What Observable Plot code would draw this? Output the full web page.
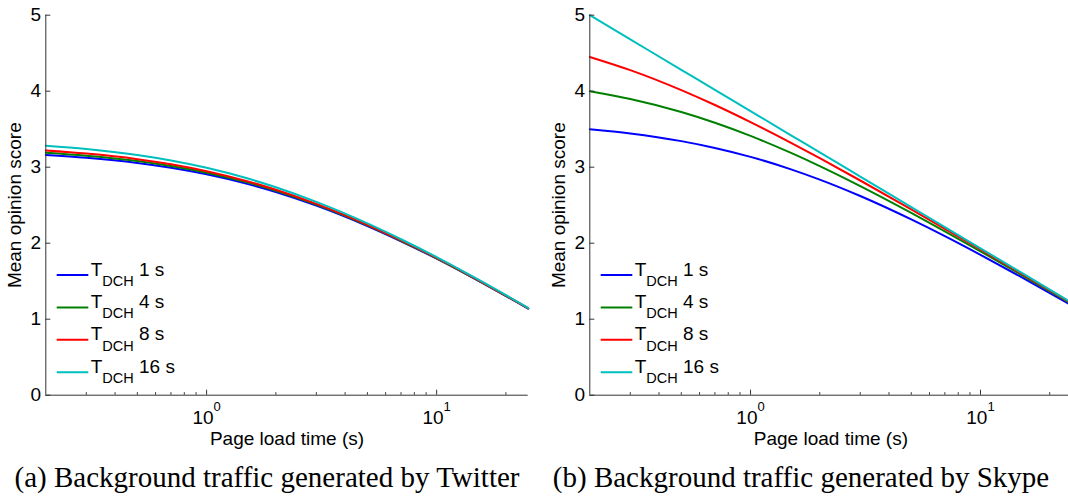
<!DOCTYPE html>
<html><head><meta charset="utf-8">
<script src="https://cdn.jsdelivr.net/npm/d3@7"></script>
<script src="https://cdn.jsdelivr.net/npm/@observablehq/plot@0.6"></script>
<style>
html,body{margin:0;padding:0;background:#fff;overflow:hidden;width:1068px;height:496px;}
#wrap{position:relative;width:1068px;height:496px;}
.panel{position:absolute;top:0;height:496px;overflow:hidden;}
.panel svg{max-width:none !important;}
.cap{position:absolute;top:463px;left:0;width:534px;text-align:center;font-family:"Liberation Serif","Times New Roman",serif;font-size:29px;line-height:29px;white-space:nowrap;color:#000;}
</style></head><body>
<div id="wrap">
  <div class="panel" id="pa" style="left:0;width:534px"></div>
  <div class="panel" id="pb" style="left:534px;width:534px"></div>
</div>
<script>
// ---- data ----
const loadTime = [0.2, 0.3, 0.5, 0.7, 1, 1.5, 2, 3, 5, 7, 10, 15, 25];
const seriesNames = ["TDCH 1 s", "TDCH 4 s", "TDCH 8 s", "TDCH 16 s"];
const legendSuffix = ["1 s", "4 s", "8 s", "16 s"];
const seriesColors = ["#0000ff", "#008000", "#ff0000", "#00bfbf"];

// (a) Twitter background traffic
const twitterT1  = [3.160, 3.123, 3.055, 2.992, 2.906, 2.781, 2.673, 2.494, 2.225, 2.025, 1.797, 1.515, 1.140];
const twitterT4  = [3.191, 3.152, 3.082, 3.016, 2.928, 2.800, 2.689, 2.507, 2.234, 2.032, 1.802, 1.519, 1.142];
const twitterT8  = [3.219, 3.179, 3.106, 3.039, 2.948, 2.816, 2.704, 2.518, 2.242, 2.038, 1.807, 1.522, 1.144];
const twitterT16 = [3.282, 3.239, 3.160, 3.088, 2.992, 2.854, 2.736, 2.543, 2.260, 2.052, 1.817, 1.529, 1.148];

// (b) Skype background traffic
const skypeT1  = [3.500, 3.444, 3.343, 3.253, 3.136, 2.972, 2.837, 2.621, 2.313, 2.093, 1.847, 1.557, 1.179];
const skypeT4  = [4.000, 3.897, 3.726, 3.585, 3.412, 3.188, 3.015, 2.752, 2.399, 2.157, 1.893, 1.588, 1.198];
const skypeT8  = [4.451, 4.277, 4.014, 3.818, 3.593, 3.321, 3.119, 2.825, 2.445, 2.190, 1.917, 1.604, 1.208];
const skypeT16 = [5.000, 4.682, 4.281, 4.018, 3.738, 3.420, 3.195, 2.877, 2.476, 2.212, 1.933, 1.615, 1.214];

const xMajorTicks = [1, 10];
const xMinorTicks = [0.3, 0.4, 0.5, 0.6, 0.7, 0.8, 0.9, 2, 3, 4, 5, 6, 7, 8, 9, 20];
const yTicks = [0, 1, 2, 3, 4, 5];
const xLabel = "Page load time (s)";
const yLabel = "Mean opinion score";
const captions = ["(a) Background traffic generated by Twitter", "(b) Background traffic generated by Skype"];

const FS = 19;

function makePanel(el, seriesValues, caption, ml, mr, width) {
  const rows = [];
  seriesValues.forEach((vals, s) => vals.forEach((v, i) => rows.push({t: loadTime[i], mos: v, series: seriesNames[s]})));
  const axisColor = "#333";
  const svg = Plot.plot({
    width, height: 455,
    marginTop: 14.7, marginBottom: 60.3, marginLeft: ml, marginRight: mr,
    style: {fontFamily: '"Liberation Sans", Arial, sans-serif', fontSize: FS + "px", color: "#000", background: "white", overflow: "visible", maxWidth: "none"},
    x: {type: "log", domain: [0.2, 25]},
    y: {domain: [0, 5]},
    color: {domain: seriesNames, range: seriesColors},
    marks: [
      Plot.line(rows, {x: "t", y: "mos", stroke: "series", strokeWidth: 2, curve: "monotone-x"}),
      Plot.ruleY([0], {stroke: axisColor, strokeWidth: 1}),
      Plot.ruleX([0.2], {stroke: axisColor, strokeWidth: 1}),
      Plot.axisX(xMinorTicks, {tickSize: -2.5, stroke: axisColor, tickFormat: () => "", label: null}),
      Plot.axisX(xMajorTicks, {tickSize: -5, stroke: axisColor, tickFormat: () => "", label: null}),
      Plot.axisX(xMajorTicks, {tickSize: 0, tickPadding: 15, fontSize: FS, tickFormat: d => "10^" + Math.round(Math.log10(d)),
        label: xLabel, labelAnchor: "center", labelArrow: "none", labelOffset: 50}),
      Plot.axisY(yTicks, {tickSize: -5, stroke: axisColor, tickFormat: () => "", label: null}),
      Plot.axisY(yTicks, {tickSize: 0, tickPadding: 4.6, fontSize: FS, tickFormat: d => String(d),
        label: yLabel, labelAnchor: "center", labelArrow: "none", labelOffset: 38})
    ]
  });
  svg.style.maxWidth = "none";
  // superscript exponents in tick labels
  d3.select(svg).selectAll('g[aria-label="x-axis tick label"] text').each(function () {
    const s = this.textContent;
    if (!s.includes("^")) return;
    const [b, e] = s.split("^");
    this.textContent = "";
    d3.select(this).append("tspan").text(b);
    d3.select(this).append("tspan").attr("dy", -13).attr("font-size", "13px").text(e);
  });
  // legend
  const g = d3.select(svg).append("g").attr("font-size", FS + "px").attr("fill", "#000").attr("text-anchor", "start");
  seriesColors.forEach((c, i) => {
    const y = 275 + i * 32.4;
    g.append("line").attr("x1", ml + 11.4).attr("x2", ml + 43).attr("y1", y).attr("y2", y)
      .attr("stroke", c).attr("stroke-width", 2);
    const t = g.append("text").attr("x", ml + 45.4).attr("y", y + 0.5).attr("text-anchor", "start");
    t.append("tspan").text("T");
    t.append("tspan").attr("dy", 10.5).attr("font-size", "14.5px").text("DCH");
    t.append("tspan").attr("dy", -10.5).text("\u00a0" + legendSuffix[i]);
  });
  el.appendChild(svg);
  const cap = document.createElement("div");
  cap.className = "cap";
  cap.textContent = caption;
  el.appendChild(cap);
}

makePanel(document.getElementById("pa"), [twitterT1, twitterT4, twitterT8, twitterT16], captions[0], 45.3, 6.3, 534);
makePanel(document.getElementById("pb"), [skypeT1, skypeT4, skypeT8, skypeT16], captions[1], 55.3, 2.5, 540);
</script>
</body></html>
